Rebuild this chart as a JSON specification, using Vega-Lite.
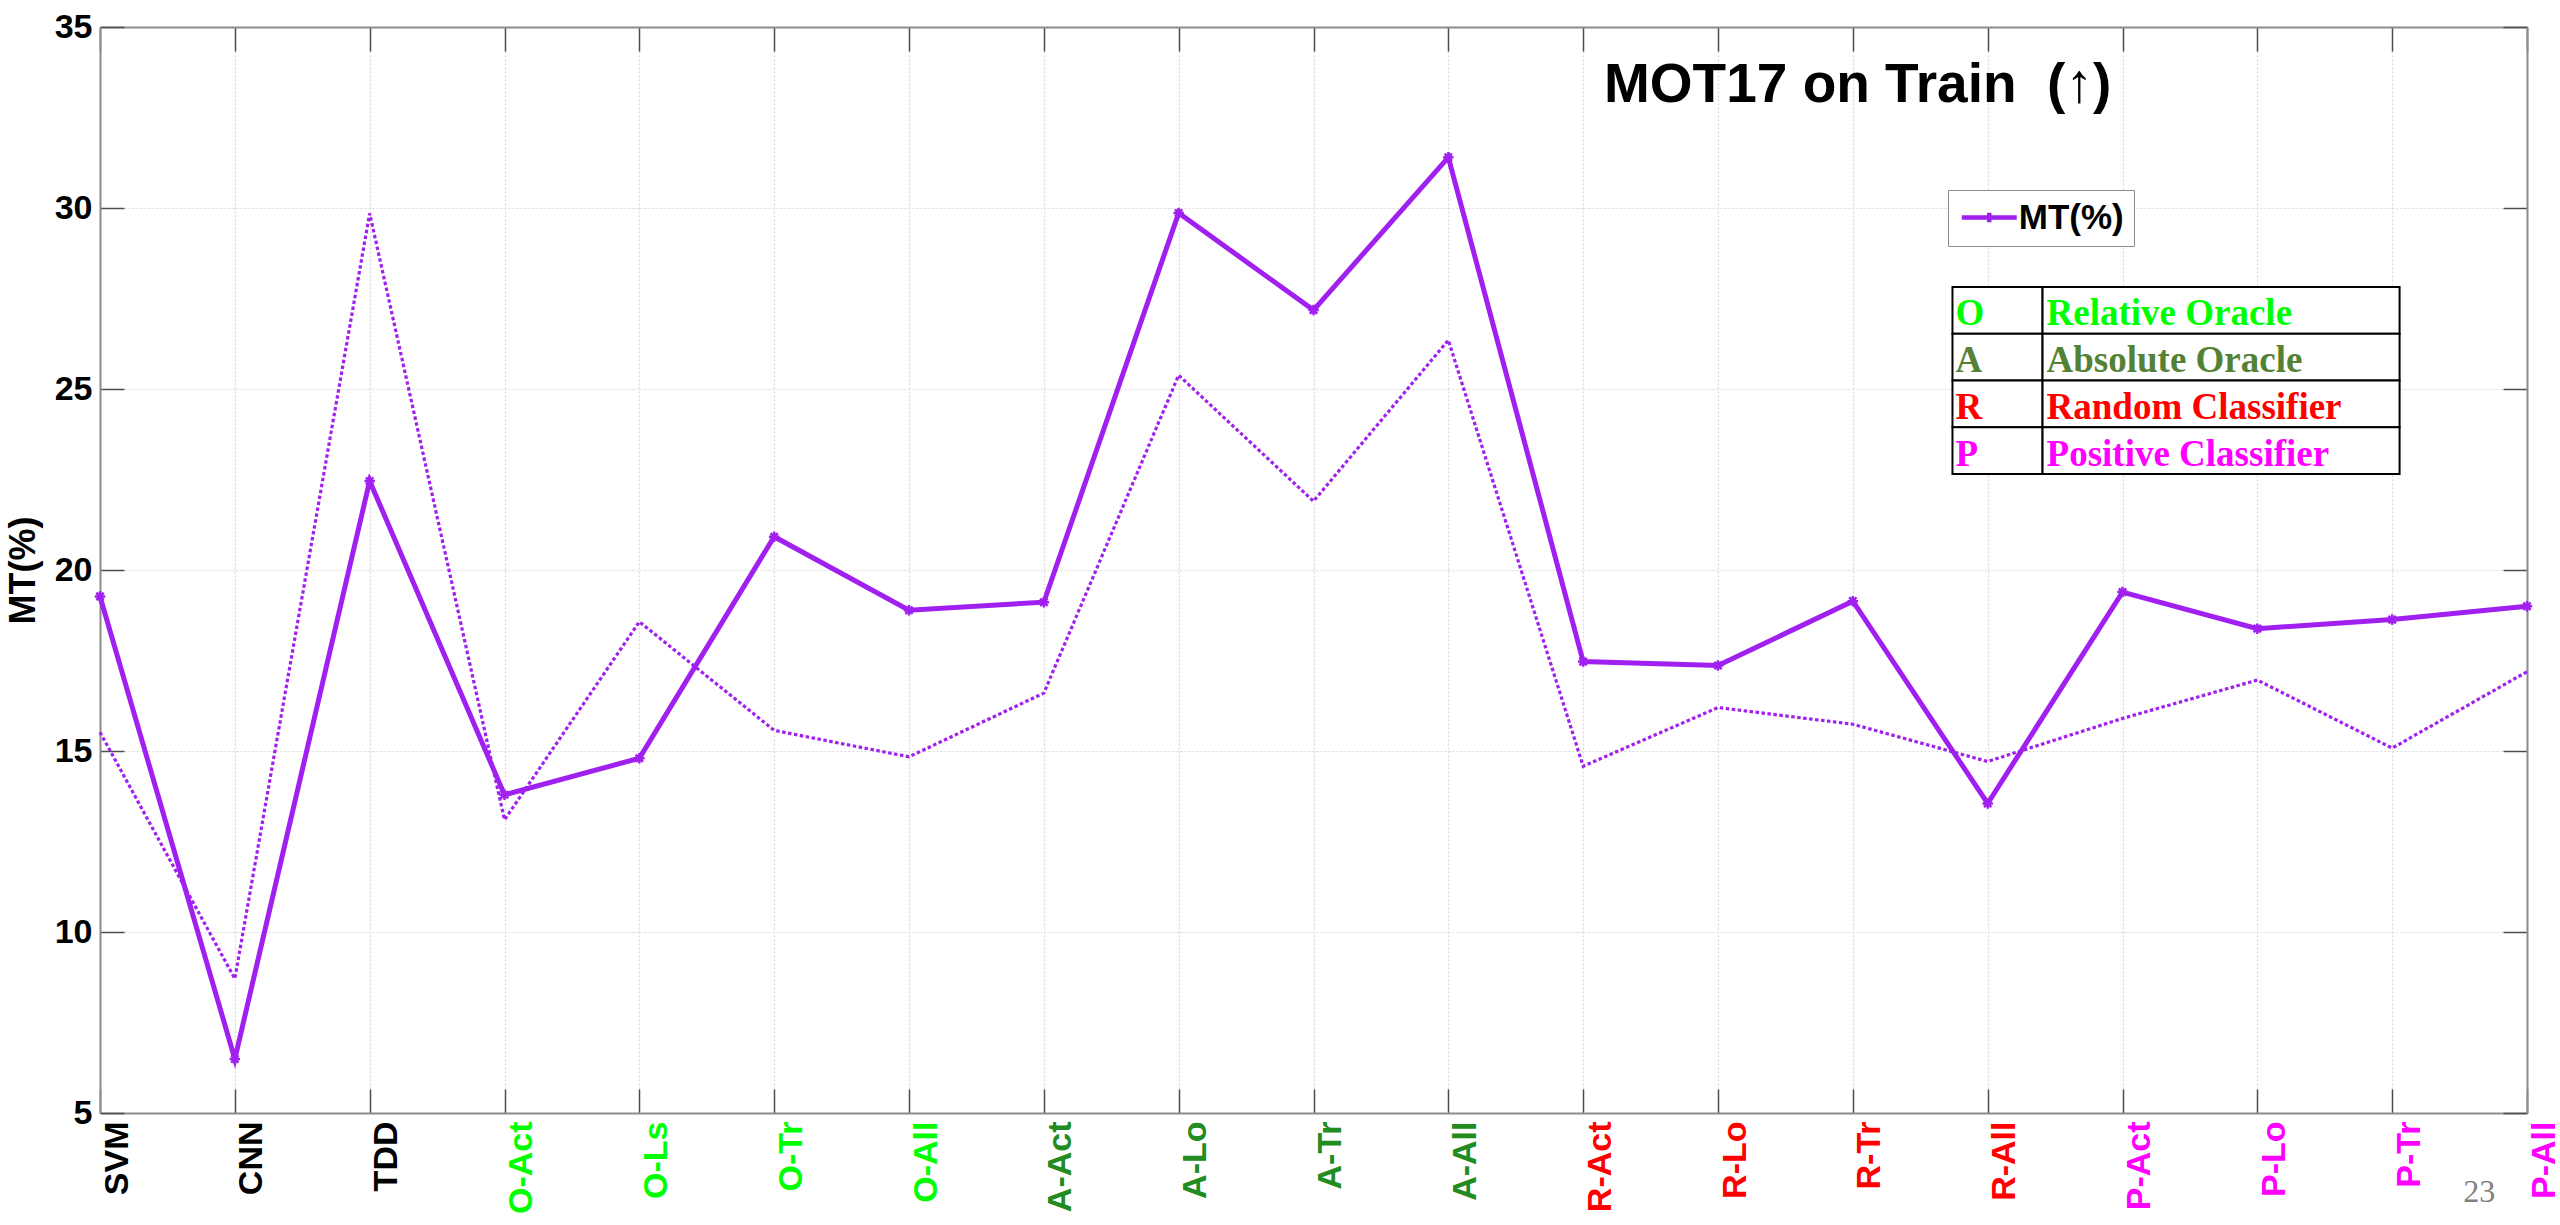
{
  "$schema": "https://vega.github.io/schema/vega-lite/v6.json",
  "width": 2427,
  "height": 1086,
  "autosize": {"type": "none"},
  "padding": {"left": 100, "top": 27, "right": 33, "bottom": 112},
  "background": "white",
  "config": {"view": {"stroke": null}, "font": "Liberation Sans"},
  "title": {
    "text": "MOT17 on Train\u00a0\u00a0(↑)",
    "anchor": "start",
    "frame": "group",
    "orient": "top",
    "dx": 1504,
    "dy": 147,
    "offset": 0,
    "baseline": "alphabetic",
    "font": "Liberation Sans",
    "fontSize": 55,
    "fontWeight": "bold",
    "color": "black"
  },
  "datasets": {
    "mt": [
      {"method": "SVM", "MT": 19.27, "MT_dotted": 15.52},
      {"method": "CNN", "MT": 6.49, "MT_dotted": 8.71},
      {"method": "TDD", "MT": 22.46, "MT_dotted": 29.85},
      {"method": "O-Act", "MT": 13.79, "MT_dotted": 13.1},
      {"method": "O-Ls", "MT": 14.8, "MT_dotted": 18.57},
      {"method": "O-Tr", "MT": 20.92, "MT_dotted": 15.57},
      {"method": "O-All", "MT": 18.89, "MT_dotted": 14.84},
      {"method": "A-Act", "MT": 19.11, "MT_dotted": 16.6},
      {"method": "A-Lo", "MT": 29.86, "MT_dotted": 25.38},
      {"method": "A-Tr", "MT": 27.18, "MT_dotted": 21.9},
      {"method": "A-All", "MT": 31.4, "MT_dotted": 26.35},
      {"method": "R-Act", "MT": 17.47, "MT_dotted": 14.58},
      {"method": "R-Lo", "MT": 17.36, "MT_dotted": 16.2},
      {"method": "R-Tr", "MT": 19.14, "MT_dotted": 15.74},
      {"method": "R-All", "MT": 13.55, "MT_dotted": 14.71},
      {"method": "P-Act", "MT": 19.39, "MT_dotted": 15.9},
      {"method": "P-Lo", "MT": 18.38, "MT_dotted": 16.96},
      {"method": "P-Tr", "MT": 18.63, "MT_dotted": 15.08},
      {"method": "P-All", "MT": 19.0, "MT_dotted": 17.19}
    ],
    "table": [
      {"code": "O", "name": "Relative Oracle"},
      {"code": "A", "name": "Absolute Oracle"},
      {"code": "R", "name": "Random Classifier"},
      {"code": "P", "name": "Positive Classifier"}
    ]
  },
  "layer": [
    {
      "data": {"name": "mt"},
      "resolve": {"axis": {"x": "independent", "y": "independent"}},
      "layer": [
        {
          "mark": {"type": "line", "strokeWidth": 3.2, "strokeDash": [3.5, 2.5], "color": "#A020F0"},
          "encoding": {
            "x": {
              "field": "method", "type": "nominal", "sort": null,
              "scale": {"type": "point", "padding": 0},
              "axis": {
                "orient": "top", "labels": false, "title": null, "grid": false,
                "tickSize": -24, "tickColor": "#4d4d4d", "tickWidth": 1.5,
                "domainColor": "#8c8c8c", "domainWidth": 2
              }
            },
            "y": {
              "field": "MT_dotted", "type": "quantitative",
              "scale": {"domain": [5, 35], "nice": false, "zero": false},
              "axis": {
                "orient": "right", "labels": false, "title": null, "grid": false,
                "values": [5, 10, 15, 20, 25, 30, 35],
                "tickSize": -24, "tickColor": "#4d4d4d", "tickWidth": 1.5,
                "domainColor": "#8c8c8c", "domainWidth": 2
              }
            }
          }
        },
        {
          "mark": {"type": "line", "strokeWidth": 5},
          "encoding": {
            "x": {
              "field": "method", "type": "nominal", "sort": null,
              "scale": {"type": "point", "padding": 0},
              "axis": {
                "orient": "bottom", "title": null,
                "labelAngle": 270, "labelAlign": "right", "labelBaseline": "top",
                "labelFont": "Liberation Sans", "labelFontWeight": "bold", "labelFontSize": 34,
                "labelPadding": 32, "labelOverlap": false, "labelFlush": false, "labelBound": false,
                "labelColor": {
                  "condition": [
                    {"test": "indexof(datum.label, 'O-') === 0", "value": "#00FF00"},
                    {"test": "indexof(datum.label, 'A-') === 0", "value": "#228B22"},
                    {"test": "indexof(datum.label, 'R-') === 0", "value": "#FF0000"},
                    {"test": "indexof(datum.label, 'P-') === 0", "value": "#FF00FF"}
                  ],
                  "value": "#000000"
                },
                "tickSize": -24, "tickColor": "#4d4d4d", "tickWidth": 1.5,
                "domainColor": "#8c8c8c", "domainWidth": 2,
                "grid": true, "gridColor": "#d9d9d9", "gridDash": [2, 2], "gridWidth": 1.2
              }
            },
            "y": {
              "field": "MT", "type": "quantitative",
              "scale": {"domain": [5, 35], "nice": false, "zero": false},
              "axis": {
                "orient": "left", "values": [5, 10, 15, 20, 25, 30, 35],
                "title": "MT(%)", "titleFont": "Liberation Sans", "titleFontSize": 36,
                "titleFontWeight": "bold", "titleColor": "black", "titlePadding": 12,
                "labelFont": "Liberation Sans", "labelFontSize": 34, "labelFontWeight": "bold",
                "labelColor": "black", "labelPadding": 32, "labelFlush": false, "labelOverlap": false,
                "tickSize": -24, "tickColor": "#4d4d4d", "tickWidth": 1.5,
                "domainColor": "#8c8c8c", "domainWidth": 2,
                "grid": true, "gridColor": "#d9d9d9", "gridDash": [2, 2], "gridWidth": 1.2
              }
            },
            "stroke": {
              "datum": "MT(%)", "type": "nominal",
              "scale": {"range": ["#A020F0"]},
              "legend": {
                "orient": "none", "legendX": 1848, "legendY": 163, "title": null,
                "symbolType": "M-2,0L2,0M0,-0.35L0,0.35", "symbolSize": 756, "symbolStrokeWidth": 4.5,
                "symbolOffset": 13.75,
                "labelFont": "Liberation Sans", "labelFontSize": 35, "labelFontWeight": "bold",
                "labelColor": "black", "labelOffset": 12,
                "strokeColor": "#8c8c8c", "fillColor": "white", "padding": 10, "cornerRadius": 0
              }
            }
          }
        },
        {
          "mark": {
            "type": "point",
            "shape": "M-1,0L1,0M0,-1L0,1M-0.7,-0.7L0.7,0.7M-0.7,0.7L0.7,-0.7",
            "filled": false, "size": 110, "strokeWidth": 2.5, "color": "#A020F0", "opacity": 1
          },
          "encoding": {
            "x": {"field": "method", "type": "nominal", "sort": null, "scale": {"type": "point", "padding": 0}, "axis": null},
            "y": {"field": "MT", "type": "quantitative", "scale": {"domain": [5, 35], "nice": false, "zero": false}, "axis": null}
          }
        },
        {
          "data": {"values": [{"page": "23"}]},
          "mark": {"type": "text", "font": "Liberation Serif", "fontSize": 32, "color": "#808080", "dx": 87, "align": "center", "baseline": "alphabetic"},
          "encoding": {
            "x": {"datum": "P-Tr", "type": "nominal", "axis": null},
            "y": {"datum": 2.54, "type": "quantitative", "axis": null},
            "text": {"field": "page"}
          }
        }
      ]
    },
    {
      "data": {"name": "table"},
      "encoding": {
        "y": {
          "field": "code", "type": "nominal",
          "scale": {"type": "band", "domain": ["O", "A", "R", "P"], "range": [260, 447], "paddingInner": 0, "paddingOuter": 0},
          "axis": null
        }
      },
      "layer": [
        {
          "mark": {"type": "rect", "fill": "white", "stroke": "black", "strokeWidth": 2},
          "encoding": {
            "x": {"datum": 13.739, "type": "quantitative", "scale": {"domain": [0, 18], "nice": false, "zero": false}, "axis": null},
            "x2": {"datum": 14.407}
          }
        },
        {
          "mark": {"type": "rect", "fill": "white", "stroke": "black", "strokeWidth": 2},
          "encoding": {
            "x": {"datum": 14.407, "type": "quantitative", "scale": {"domain": [0, 18], "nice": false, "zero": false}, "axis": null},
            "x2": {"datum": 17.055}
          }
        },
        {
          "mark": {"type": "text", "align": "left", "baseline": "middle", "dx": 3, "dy": 4, "font": "Liberation Serif", "fontWeight": "bold", "fontSize": 37},
          "encoding": {
            "x": {"datum": 13.739, "type": "quantitative", "scale": {"domain": [0, 18], "nice": false, "zero": false}, "axis": null},
            "text": {"field": "code"},
            "color": {"field": "code", "type": "nominal", "scale": {"domain": ["O", "A", "R", "P"], "range": ["#00FF00", "#548235", "#FF0000", "#FF00FF"]}, "legend": null}
          }
        },
        {
          "mark": {"type": "text", "align": "left", "baseline": "middle", "dx": 4, "dy": 4, "font": "Liberation Serif", "fontWeight": "bold", "fontSize": 37},
          "encoding": {
            "x": {"datum": 14.407, "type": "quantitative", "scale": {"domain": [0, 18], "nice": false, "zero": false}, "axis": null},
            "text": {"field": "name"},
            "color": {"field": "code", "type": "nominal", "scale": {"domain": ["O", "A", "R", "P"], "range": ["#00FF00", "#548235", "#FF0000", "#FF00FF"]}, "legend": null}
          }
        }
      ]
    }
  ],
  "resolve": {"scale": {"x": "independent", "y": "independent", "color": "independent", "stroke": "independent"}}
}
